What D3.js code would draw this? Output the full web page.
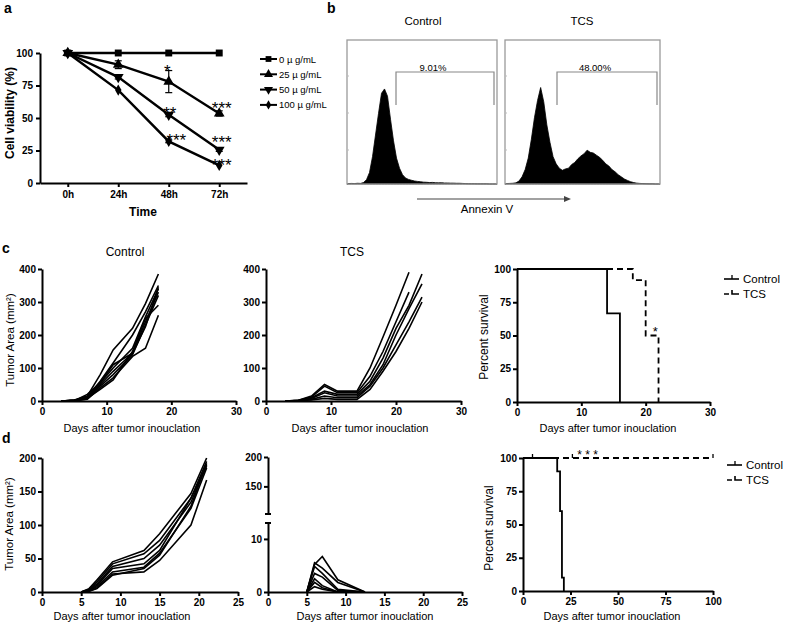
<!DOCTYPE html>
<html><head><meta charset="utf-8">
<script src="https://cdn.jsdelivr.net/npm/d3@7"></script>
<style>
body{margin:0;background:#fff}
svg{display:block}
text{font-family:"Liberation Sans",Arial,sans-serif;fill:#000}
</style>
</head><body>
<svg id="fig" width="789" height="623"></svg>
<script>
// ---------------- DATA ----------------
// Panel a: cell viability
const timeLabels = ["0h", "24h", "48h", "72h"];
const doseLabels = ["0 µ g/mL", "25 µ g/mL", "50 µ g/mL", "100 µ g/mL"];
const viab0   = [100, 100, 100, 100];
const viab25  = [100, 91, 78, 53.5];
const viab50  = [100, 81.5, 52.5, 25.5];
const viab100 = [100, 71.5, 32, 13.5];
const err25   = [0, 3, 8.5, 2];
const err50   = [0, 1.5, 1.5, 1.2];
const err100  = [0, 0.6, 1, 0.8];
const sigTime  = [1.97, 2.02, 2.15, 3.05, 3.05, 3.05];
const sigLevel = [89, 57, 36, 61, 35, 17];
const sigText  = ["*", "**", "***", "***", "***", "***"];

// Panel b: Annexin V histograms (counts, % of plot height, 50 bins)
const histControl = [0.3,0.4,0.3,0.5,0.4, 1,3,8,19,34, 49,63,66,61,45, 30,18,11,6.5,4.2,
  3.2,2.6,2.1,1.8,1.6, 1.3,1.2,1.0,1.1,0.9, 0.8,0.9,0.7,0.7,0.6, 0.6,0.5,0.5,0.4,0.3,
  0.2,0.2,0.2,0.1,0.1, 0.1,0.1,0,0,0];
const histTCS = [0.3,0.4,0.5,0.8, 2,5,10,18,31,46, 58,67,57,41,29, 19,14,11,9.5,10.5,
  11,13.5,15,17.5,19.5, 21,23.5,22,21.5,20, 18.5,16.5,14,12.5,10, 8.5,6.5,5,3.5,2.5,
  1.6,1,0.6,0.4,0.3, 0.2,0.1,0.1,0,0];
const gateLabels = ["9.01%", "48.00%"];

// Panel c: tumour growth (mm²)
const cCtrlDays = [3, 5, 7, 9, 11, 14, 16, 18];
const cCtrlLines = [
  [0, 3, 15, 80, 155, 220, 295, 385],
  [0, 2, 12, 60, 115, 200, 270, 350],
  [0, 2, 10, 55, 100, 160, 255, 340],
  [0, 1, 8, 50, 90, 145, 240, 330],
  [0, 1, 6, 45, 80, 140, 230, 320],
  [0, 1, 5, 40, 70, 135, 160, 260],
  [0, 2, 8, 35, 64, 150, 250, 290],
  [0, 1, 20, 55, 110, 145, 225, 345]
];
const cTcsDays = [3, 5, 7, 9, 11, 14, 16, 18, 20, 22, 24];
const cTcsLines = [
  [0, 2, 15, 50, 30, 30, 100, 194, 290, 390],
  [0, 2, 12, 45, 25, 25, 75, 150, 240, 330],
  [0, 1, 10, 30, 20, 20, 60, 130, 220, 290, 385],
  [0, 1, 8, 25, 15, 15, 50, 110, 200, 280, 355],
  [0, 1, 5, 15, 10, 10, 45, 100, 170, 240, 315],
  [0, 1, 3, 8, 5, 5, 35, 90, 150, 220, 300]
];
// Panel c survival
const cSurvCtrl = [[0, 100], [14, 66.7], [16, 0]];
const cSurvTcs  = [[0, 100], [18, 91.7], [20, 50], [22, 0]];

// Panel d: tumour growth
const dCtrlDays = [5, 6, 7, 9, 13, 15, 19, 21];
const dCtrlLines = [
  [0, 5, 18, 45, 62, 87, 147, 200],
  [0, 4, 15, 42, 57, 77, 140, 195],
  [0, 3, 12, 38, 50, 70, 134, 190],
  [0, 2, 10, 35, 42, 62, 140, 188],
  [0, 2, 8, 30, 37, 58, 125, 185],
  [0, 1, 6, 27, 30, 47, 100, 167],
  [0, 1, 5, 25, 35, 55, 128, 192]
];
const dTcsDays = [5, 6, 7, 9, 12.5];
const dTcsLines = [
  [0, 5.2, 6.7, 2.3, 0],
  [0, 5.5, 4.5, 1.8, 0],
  [0, 4.8, 3.5, 0.5, 0],
  [0, 3.5, 2.8, 0.3, 0],
  [0, 2.5, 1.2, 0, 0],
  [0, 1.8, 0.8, 0, 0],
  [0, 1, 0.5, 0, 0]
];
// Panel d survival
const dSurvCtrl = [[0, 100], [18, 90], [19.5, 60], [20.5, 10], [21.5, 0]];
const dSurvTcs  = [[0, 100], [100, 100]];
const dTcsCensor = [5, 26, 100];
const groupLabels = ["Control", "TCS"];

// ---------------- DRAWING ----------------
const svg = d3.select("#fig");
const FONT = '"Liberation Sans",Arial,sans-serif';

function styleAxis(g, size) {
  g.selectAll("path,line").attr("stroke", "#000").attr("stroke-width", 2);
  g.selectAll("text").attr("font-weight", "bold").attr("font-size", size || 10).attr("font-family", FONT);
  return g;
}
function text(x, y, s, opts) {
  const t = svg.append("text").attr("x", x).attr("y", y).text(s);
  opts = opts || {};
  t.attr("font-size", opts.size || 11)
   .attr("font-weight", opts.weight || "normal")
   .attr("text-anchor", opts.anchor || "middle");
  if (opts.rotate) t.attr("transform", `rotate(-90,${x},${y})`);
  return t;
}

// Panel letters
text(4, 13, "a", {size: 14, weight: "bold", anchor: "start"});
text(327, 13, "b", {size: 14, weight: "bold", anchor: "start"});
text(2, 253, "c", {size: 14, weight: "bold", anchor: "start"});
text(2, 443, "d", {size: 14, weight: "bold", anchor: "start"});

// ---- Panel a ----
{
  const x = d3.scaleLinear().domain([-0.55, 3.55]).range([40, 247]);
  const y = d3.scaleLinear().domain([0, 100]).range([183, 53]);
  const gx = svg.append("g").attr("transform", "translate(0,183)")
    .call(d3.axisBottom(x).tickValues([0, 1, 2, 3]).tickFormat(i => timeLabels[i]).tickSize(4).tickSizeOuter(0).tickPadding(4));
  styleAxis(gx);
  const gy = svg.append("g").attr("transform", "translate(40,0)")
    .call(d3.axisLeft(y).tickValues([0, 25, 50, 75, 100]).tickSize(4).tickSizeOuter(0).tickPadding(3));
  styleAxis(gy);
  text(143, 216, "Time", {size: 12, weight: "bold"});
  text(14, 113, "Cell viability (%)", {size: 12, weight: "bold", rotate: true});

  const series = [viab0, viab25, viab50, viab100];
  const errs = [null, err25, err50, err100];
  const syms = [
    {t: d3.symbolSquare, s: 48, r: 0},
    {t: d3.symbolTriangle, s: 50, r: 0},
    {t: d3.symbolTriangle, s: 50, r: 180},
    {t: d3.symbolDiamond, s: 36, r: 0}
  ];
  const line = d3.line().x((d, i) => x(i)).y(d => y(d));
  series.forEach((s, k) => {
    svg.append("path").attr("d", line(s)).attr("fill", "none").attr("stroke", "#000").attr("stroke-width", 2.4);
    if (errs[k]) {
      s.forEach((v, i) => {
        const e = errs[k][i];
        if (e > 0.8) {
          svg.append("line").attr("x1", x(i)).attr("x2", x(i)).attr("y1", y(v - e)).attr("y2", y(v + e)).attr("stroke", "#000").attr("stroke-width", 1.2);
          [v - e, v + e].forEach(w => svg.append("line").attr("x1", x(i) - 3.5).attr("x2", x(i) + 3.5).attr("y1", y(w)).attr("y2", y(w)).attr("stroke", "#000").attr("stroke-width", 1.2));
        }
      });
    }
    s.forEach((v, i) => {
      svg.append("path").attr("d", d3.symbol().type(syms[k].t).size(syms[k].s)())
        .attr("transform", `translate(${x(i)},${y(v)}) rotate(${syms[k].r})`).attr("fill", "#000");
    });
  });
  sigText.forEach((t, i) => {
    text(x(sigTime[i]), y(sigLevel[i]) + 10, t, {size: 17});
  });
  // legend
  doseLabels.forEach((lab, k) => {
    const ly = 59 + k * 15.3;
    svg.append("line").attr("x1", 260).attr("x2", 277).attr("y1", ly).attr("y2", ly).attr("stroke", "#000").attr("stroke-width", 2);
    svg.append("path").attr("d", d3.symbol().type(syms[k].t).size(syms[k].s * 0.7)())
      .attr("transform", `translate(268.5,${ly}) rotate(${syms[k].r})`).attr("fill", "#000");
    text(279, ly + 3.5, lab, {size: 9.5, anchor: "start"});
  });
}

// ---- Panel b ----
{
  const boxes = [
    {x0: 347, x1: 497, data: histControl, gate: [396, 494], title: groupLabels[0], tx: 423, label: gateLabels[0], lx: 433},
    {x0: 505, x1: 660, data: histTCS, gate: [557, 657], title: groupLabels[1], tx: 582, label: gateLabels[1], lx: 595}
  ];
  const y = d3.scaleLinear().domain([0, 100]).range([184, 40]);
  boxes.forEach(b => {
    const x = d3.scaleLinear().domain([0, 100]).range([b.x0, b.x1]);
    const pts = b.data.map((v, i) => [i * 2 + 1, v]);
    pts.unshift([0, 0]);
    pts.push([100, 0]);
    const area = d3.area().x(d => x(d[0])).y0(y(0)).y1(d => y(d[1])).curve(d3.curveLinear);
    svg.append("path").attr("d", area(pts)).attr("fill", "#000").attr("stroke", "#000").attr("stroke-width", 0.8);
    svg.append("rect").attr("x", b.x0).attr("y", 40).attr("width", b.x1 - b.x0).attr("height", 144)
      .attr("fill", "none").attr("stroke", "#9a9a9a").attr("stroke-width", 1.3);
    [76, 113, 150].forEach(ty => svg.append("line").attr("x1", b.x0).attr("x2", b.x0 + 2).attr("y1", ty).attr("y2", ty).attr("stroke", "#bbb"));
    svg.append("path").attr("d", `M${b.gate[0]},105V72H${b.gate[1]}V105`).attr("fill", "none").attr("stroke", "#888").attr("stroke-width", 1.2);
    text(b.lx, 71, b.label, {size: 9.5});
    text(b.tx, 25, b.title, {size: 11.5});
  });
  svg.append("line").attr("x1", 417).attr("x2", 566).attr("y1", 199).attr("y2", 199).attr("stroke", "#444").attr("stroke-width", 1.2);
  svg.append("path").attr("d", "M571,199L564,196L564,202Z").attr("fill", "#444");
  text(487, 213, "Annexin V", {size: 11.5});
}

// ---- Growth panels ----
function growthPanel(xr, yDomain, yRange, days, lines, xMax, xTicks, yTicks, drawYAxis) {
  const x = d3.scaleLinear().domain([0, xMax]).range(xr);
  const y = d3.scaleLinear().domain(yDomain).range(yRange);
  const line = d3.line().x((d, i) => x(days[i])).y(d => y(d));
  lines.forEach(l => {
    svg.append("path").attr("d", line(l)).attr("fill", "none").attr("stroke", "#000").attr("stroke-width", 1.6);
  });
  const gx = svg.append("g").attr("transform", `translate(0,${yRange[0]})`)
    .call(d3.axisBottom(x).tickValues(xTicks).tickSize(4).tickSizeOuter(0).tickPadding(3));
  styleAxis(gx);
  if (drawYAxis) {
    const gy = svg.append("g").attr("transform", `translate(${xr[0]},0)`)
      .call(d3.axisLeft(y).tickValues(yTicks).tickSize(4).tickSizeOuter(0).tickPadding(2));
    styleAxis(gy);
  }
  return {x, y};
}

// Panel c growth
growthPanel([42, 236], [0, 400], [401, 269], cCtrlDays, cCtrlLines, 30, [0, 10, 20, 30], [0, 100, 200, 300, 400], true);
growthPanel([266, 461], [0, 400], [401, 269], cTcsDays, cTcsLines, 30, [0, 10, 20, 30], [0, 100, 200, 300, 400], true);
text(125, 256, groupLabels[0], {size: 12});
text(352, 256, groupLabels[1], {size: 12});
text(14, 340, "Tumor Area (mm²)", {size: 11.5, rotate: true});
text(132, 432, "Days after tumor inouclation", {size: 11});
text(360, 432, "Days after tumor inouclation", {size: 11});

// Panel d growth
growthPanel([42, 238], [0, 200], [592, 458], dCtrlDays, dCtrlLines, 25, [0, 5, 10, 15, 20, 25], [0, 50, 100, 150, 200], true);
{
  growthPanel([268, 462], [0, 13], [592, 523], dTcsDays, dTcsLines, 25, [0, 5, 10, 15, 20, 25], [0, 10], true);
  // broken upper axis segment
  const yTop = d3.scaleLinear().domain([103, 200]).range([514, 457]);
  const gy = svg.append("g").attr("transform", "translate(268,0)")
    .call(d3.axisLeft(yTop).tickValues([150, 200]).tickSize(4).tickSizeOuter(0).tickPadding(2));
  styleAxis(gy);
  svg.append("line").attr("x1", 265).attr("x2", 271).attr("y1", 514).attr("y2", 514).attr("stroke", "#000").attr("stroke-width", 2);
  svg.append("line").attr("x1", 265).attr("x2", 271).attr("y1", 523).attr("y2", 523).attr("stroke", "#000").attr("stroke-width", 2);
}
text(13, 524, "Tumor Area (mm²)", {size: 11.5, rotate: true});
text(122, 620, "Days after tumor inouclation", {size: 11});
text(365, 620, "Days after tumor inouclation", {size: 11});

// ---- Survival panels ----
function survPanel(xr, yr, xMax, xTicks, ctrl, tcs, censor) {
  const x = d3.scaleLinear().domain([0, xMax]).range(xr);
  const y = d3.scaleLinear().domain([0, 100]).range(yr);
  const line = d3.line().x(d => x(d[0])).y(d => y(d[1])).curve(d3.curveStepAfter);
  svg.append("path").attr("d", line(tcs)).attr("fill", "none").attr("stroke", "#000").attr("stroke-width", 1.8).attr("stroke-dasharray", "6,4");
  svg.append("path").attr("d", line(ctrl)).attr("fill", "none").attr("stroke", "#000").attr("stroke-width", 1.8);
  (censor || []).forEach(c => svg.append("line").attr("x1", x(c)).attr("x2", x(c)).attr("y1", y(100) - 4).attr("y2", y(100)).attr("stroke", "#000").attr("stroke-width", 1.3));
  const gx = svg.append("g").attr("transform", `translate(0,${yr[0]})`)
    .call(d3.axisBottom(x).tickValues(xTicks).tickSize(4).tickSizeOuter(0).tickPadding(3));
  styleAxis(gx);
  const gy = svg.append("g").attr("transform", `translate(${xr[0]},0)`)
    .call(d3.axisLeft(y).tickValues([0, 25, 50, 75, 100]).tickSize(4).tickSizeOuter(0).tickPadding(2));
  styleAxis(gy);
  return {x, y};
}
function survLegend(x0, y0) {
  svg.append("line").attr("x1", x0).attr("x2", x0 + 15).attr("y1", y0).attr("y2", y0).attr("stroke", "#000").attr("stroke-width", 1.6);
  svg.append("line").attr("x1", x0 + 8).attr("x2", x0 + 8).attr("y1", y0 - 4).attr("y2", y0).attr("stroke", "#000").attr("stroke-width", 1.3);
  text(x0 + 19, y0 + 4, groupLabels[0], {size: 11.5, anchor: "start"});
  const y1 = y0 + 15;
  svg.append("path").attr("d", `M${x0},${y1}H${x0 + 5}M${x0 + 8},${y1 - 4}V${y1}H${x0 + 15}`).attr("fill", "none").attr("stroke", "#000").attr("stroke-width", 1.6);
  text(x0 + 19, y1 + 4, groupLabels[1], {size: 11.5, anchor: "start"});
}
{
  const p = survPanel([517, 710], [402, 269], 30, [0, 10, 20, 30], cSurvCtrl, cSurvTcs, []);
  text(p.x(21.5), p.y(50), "*", {size: 13});
  survLegend(724, 279);
  text(488, 337, "Percent survival", {size: 12, rotate: true});
  text(608, 432, "Days after tumor inouclation", {size: 11});
}
{
  const p = survPanel([523, 713], [591, 458], 100, [0, 25, 50, 75, 100], dSurvCtrl, dSurvTcs, dTcsCensor);
  text(p.x(34), 459, "* * *", {size: 12});
  survLegend(727, 465);
  text(493, 528, "Percent survival", {size: 12, rotate: true});
  text(612, 620, "Days after tumor inouclation", {size: 11});
}
</script>
</body></html>
